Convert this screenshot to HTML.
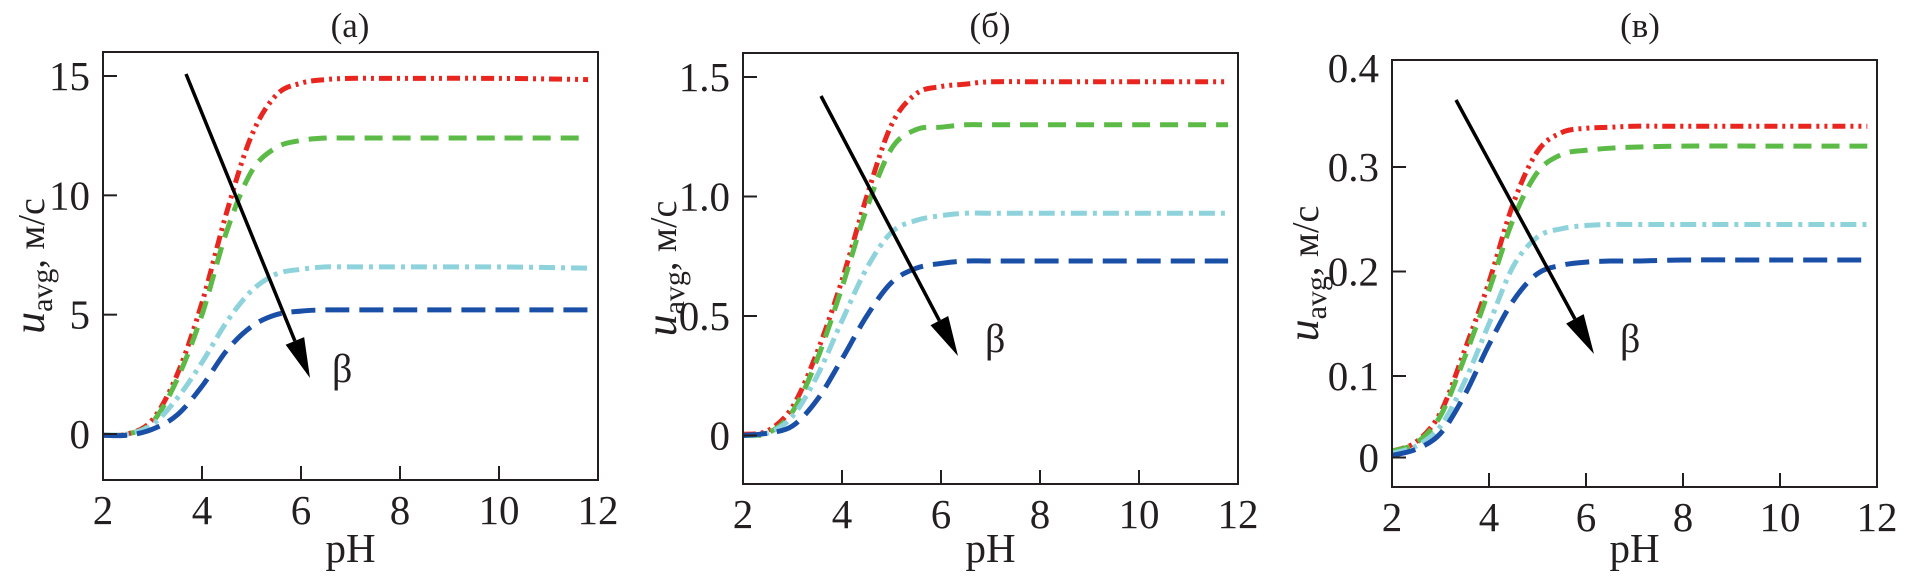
<!DOCTYPE html>
<html><head><meta charset="utf-8">
<style>
html,body{margin:0;padding:0;background:#fff;}
svg{display:block;}
text{font-family:"Liberation Serif",serif;fill:#231f20;}
</style></head>
<body>
<svg id="chart" width="1907" height="585" viewBox="0 0 1907 585" xmlns="http://www.w3.org/2000/svg"></svg>
<script>
const pH = [2, 2.5, 3, 3.5, 4, 4.5, 5, 5.5, 6, 6.5, 7, 8, 10, 11.8];
const xTicks = [2, 4, 6, 8, 10, 12];
const xTickLabels = ["2", "4", "6", "8", "10", "12"];

const aRed   = [-0.05, 0, 0.6, 2.5, 5.5, 9.3, 12.5, 14.2, 14.7, 14.85, 14.9, 14.9, 14.9, 14.85];
const aGreen = [-0.05, 0, 0.5, 2.3, 5.0, 8.5, 11.0, 12.0, 12.3, 12.4, 12.4, 12.4, 12.4, 12.4];
const aCyan  = [-0.05, 0, 0.4, 1.5, 3.0, 4.7, 6.0, 6.7, 6.9, 7.0, 7.0, 7.0, 7.0, 6.95];
const aBlue  = [-0.05, -0.05, 0.2, 0.8, 2.0, 3.5, 4.5, 5.0, 5.15, 5.2, 5.2, 5.2, 5.2, 5.2];
const aYTicks = [0, 5, 10, 15];
const aYLabels = ["0", "5", "10", "15"];

const bRed   = [0.005, 0.02, 0.12, 0.35, 0.65, 1.0, 1.3, 1.43, 1.46, 1.47, 1.48, 1.48, 1.48, 1.48];
const bGreen = [0, 0.01, 0.1, 0.32, 0.62, 0.95, 1.2, 1.28, 1.29, 1.3, 1.3, 1.3, 1.3, 1.3];
const bCyan  = [0, 0.01, 0.08, 0.25, 0.48, 0.7, 0.85, 0.9, 0.92, 0.93, 0.93, 0.93, 0.93, 0.93];
const bBlue  = [0, 0.01, 0.04, 0.15, 0.32, 0.5, 0.64, 0.70, 0.72, 0.73, 0.73, 0.73, 0.73, 0.73];
const bYTicks = [0, 0.5, 1.0, 1.5];
const bYLabels = ["0", "0.5", "1.0", "1.5"];

const cRed   = [0.028, 0.037, 0.065, 0.125, 0.19, 0.265, 0.315, 0.333, 0.337, 0.338, 0.339, 0.339, 0.339, 0.339];
const cGreen = [0.028, 0.036, 0.062, 0.118, 0.182, 0.25, 0.295, 0.312, 0.316, 0.318, 0.319, 0.32, 0.32, 0.32];
const cCyan  = [0.026, 0.033, 0.052, 0.095, 0.15, 0.205, 0.233, 0.241, 0.244, 0.245, 0.245, 0.245, 0.245, 0.245];
const cBlue  = [0.024, 0.03, 0.045, 0.082, 0.13, 0.172, 0.198, 0.206, 0.209, 0.21, 0.21, 0.211, 0.211, 0.211];
const cYTicks = [0.022, 0.1, 0.2, 0.3, 0.4];
const cYLabels = ["0", "0.1", "0.2", "0.3", "0.4"];

const NS = "http://www.w3.org/2000/svg";
const svg = document.getElementById("chart");
function el(tag, attrs, parent) {
  const e = document.createElementNS(NS, tag);
  for (const k in attrs) e.setAttribute(k, attrs[k]);
  (parent || svg).appendChild(e);
  return e;
}
const styles = [
  {color: "#e8261f", dash: "13 5 3 5 3 5", key: "red"},
  {color: "#5bbb46", dash: "18 10", key: "green"},
  {color: "#8ed3dc", dash: "16 6 4 6", key: "cyan"},
  {color: "#1a4fa8", dash: "24 10", key: "blue"}
];
function smoothPath(pts) {
  let d = "M" + pts[0][0] + "," + pts[0][1];
  for (let i = 0; i < pts.length - 1; i++) {
    const p0 = pts[Math.max(0, i - 1)], p1 = pts[i], p2 = pts[i + 1], p3 = pts[Math.min(pts.length - 1, i + 2)];
    const c1 = [p1[0] + (p2[0] - p0[0]) / 6, p1[1] + (p2[1] - p0[1]) / 6];
    const c2 = [p2[0] - (p3[0] - p1[0]) / 6, p2[1] - (p3[1] - p1[1]) / 6];
    d += " C" + c1[0] + "," + c1[1] + " " + c2[0] + "," + c2[1] + " " + p2[0] + "," + p2[1];
  }
  return d;
}
function panel(cfg) {
  const g = el("g", {});
  
  
  const xs = v => cfg.x0 + (v - 2) / 10 * (cfg.x1 - cfg.x0);
  const ys = v => cfg.yZero - (v - cfg.vA) / (cfg.vB - cfg.vA) * (cfg.yZero - cfg.yB);
  cfg.series.forEach((s, i) => {
    const pts = pH.map((p, j) => [xs(p), ys(s[j])]);
    const path = el("path", {d: smoothPath(pts), fill: "none", stroke: styles[i].color, "stroke-width": 5, "stroke-dasharray": styles[i].dash}, g);
    
    
  });
  const fr = el("rect", {x: cfg.x0, y: cfg.top, width: cfg.x1 - cfg.x0, height: cfg.bottom - cfg.top, fill: "none", stroke: "#231f20", "stroke-width": 2}, g);
  
  
  xTicks.forEach((t, i) => {
    const x = xs(t);
    if (i > 0 && i < xTicks.length - 1) {
      const tk = el("line", {x1: x, x2: x, y1: cfg.bottom, y2: cfg.bottom - 14, stroke: "#231f20", "stroke-width": 2}, g);
      
      
    }
    const tl = el("text", {x: x, y: cfg.bottom + 44, "font-size": 41, "text-anchor": "middle"}, g);
    tl.textContent = xTickLabels[i];
    
    
  });
  cfg.yTicks.forEach((t, i) => {
    const y = ys(t);
    if (y > cfg.top + 5) {
      const tk = el("line", {x1: cfg.x0, x2: cfg.x0 + 14, y1: y, y2: y, stroke: "#231f20", "stroke-width": 2}, g);
      
      
    }
    const tl = el("text", {x: cfg.x0 - 13, y: Math.max(y, cfg.top + 8) + 14, "font-size": 41, "text-anchor": "end"}, g);
    tl.textContent = cfg.yLabels[i];
    
    
  });
  const xt = el("text", {x: (cfg.x0 + cfg.x1) / 2, y: 562, "font-size": 41, "text-anchor": "middle"}, g);
  xt.textContent = "pH";
  
  
  const yt = el("text", {transform: "translate(" + cfg.ylx + "," + (cfg.top + cfg.bottom) / 2 + ") rotate(-90)", "font-size": 38, "text-anchor": "middle"}, g);
  
  
  yt.innerHTML = '<tspan font-style="italic" font-size="44">u</tspan><tspan font-size="30" dy="8">avg</tspan><tspan dy="-8">, м/с</tspan>';
  const ti = el("text", {x: cfg.titleX, y: 37, "font-size": 35, "text-anchor": "middle"}, g);
  ti.textContent = cfg.title;
  
  
  const a = cfg.arrow;
  const dx = a[2] - a[0], dy = a[3] - a[1], L = Math.hypot(dx, dy), ux = dx / L, uy = dy / L;
  const hx = a[2] - ux * 40, hy = a[3] - uy * 40;
  const ar = el("line", {x1: a[0], y1: a[1], x2: hx, y2: hy, stroke: "#000", "stroke-width": 3.5}, g);
  
  
  const ah = el("polygon", {points: a[2] + "," + a[3] + " " + (hx - uy * 10) + "," + (hy + ux * 10) + " " + (hx + uy * 10) + "," + (hy - ux * 10), fill: "#000"}, g);
  
  
  const b = el("text", {x: cfg.beta[0], y: cfg.beta[1], "font-size": 40}, g);
  b.textContent = "β";
  
  
}
panel({name: "panel-a", title: "(a)", titleX: 350, x0: 103, x1: 598, top: 52, bottom: 480,
  yZero: 434, yB: 76, vA: 0, vB: 15, yTicks: aYTicks, yLabels: aYLabels, ylx: 44,
  series: [aRed, aGreen, aCyan, aBlue], arrow: [186, 74, 310, 378], beta: [332, 382]});
panel({name: "panel-b", title: "(б)", titleX: 990, x0: 743, x1: 1238, top: 53, bottom: 484,
  yZero: 435.5, yB: 77, vA: 0, vB: 1.5, yTicks: bYTicks, yLabels: bYLabels, ylx: 676,
  series: [bRed, bGreen, bCyan, bBlue], arrow: [821, 96, 958, 356], beta: [985, 352]});
panel({name: "panel-c", title: "(в)", titleX: 1640, x0: 1392, x1: 1877, top: 60, bottom: 487,
  yZero: 376, yB: 167, vA: 0.1, vB: 0.3, yTicks: cYTicks, yLabels: cYLabels, ylx: 1318,
  series: [cRed, cGreen, cCyan, cBlue], arrow: [1456, 100, 1594, 354], beta: [1620, 352]});
</script>
</body></html>
